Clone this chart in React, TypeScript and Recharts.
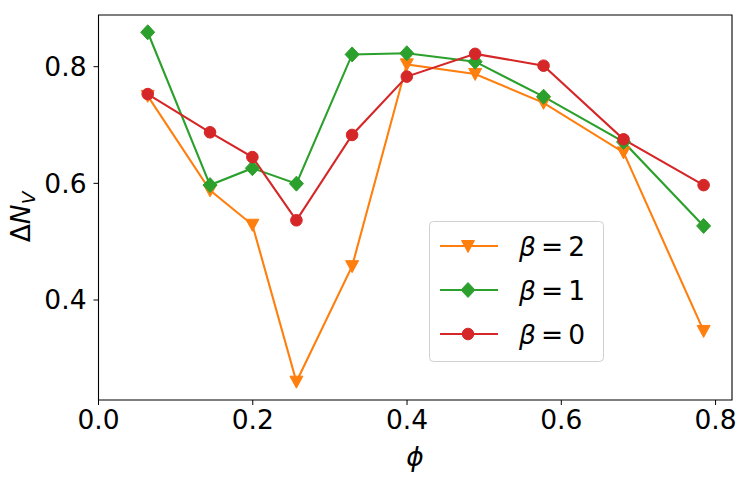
import React from 'react';
import { LineChart, Line, XAxis, YAxis, ReferenceArea } from 'recharts';

// phi values (x)
const phi = [0.0638, 0.1446, 0.1995, 0.2566, 0.3288, 0.3997, 0.4883, 0.577, 0.6807, 0.7845];

// Delta N_V for each beta
const beta2 = [0.750, 0.588, 0.529, 0.260, 0.458, 0.804, 0.7875, 0.738, 0.653, 0.347];
const beta1 = [0.859, 0.597, 0.626, 0.5995, 0.821, 0.823, 0.8086, 0.7486, 0.671, 0.527];
const beta0 = [0.753, 0.6875, 0.645, 0.5367, 0.683, 0.783, 0.822, 0.8017, 0.6755, 0.597];

const xTicks = [0, 0.2, 0.4, 0.6, 0.8];
const yTicks = [0.4, 0.6, 0.8];

const data = phi.map((p, i) => ({ phi: p, b2: beta2[i], b1: beta1[i], b0: beta0[i] }));

const ORANGE = '#ff7f0e';
const GREEN = '#2ca02c';
const RED = '#d62728';
const FONT = 'DejaVu Sans';
const FS = 26.5;

const TriDown = (cx: number, cy: number, color: string, key?: any) => (
  <path key={key} d={`M${cx - 6.5},${cy - 5.5} L${cx + 6.5},${cy - 5.5} L${cx},${cy + 6.5} Z`} fill={color} stroke={color} />
);
const Diamond = (cx: number, cy: number, color: string, key?: any) => (
  <path key={key} d={`M${cx},${cy - 7.5} L${cx + 7},${cy} L${cx},${cy + 7.5} L${cx - 7},${cy} Z`} fill={color} stroke={color} />
);
const Circle = (cx: number, cy: number, color: string, key?: any) => (
  <circle key={key} cx={cx} cy={cy} r={5.8} fill={color} stroke={color} />
);

const series = [
  { key: 'b2', label: '2', color: ORANGE, marker: TriDown },
  { key: 'b1', label: '1', color: GREEN, marker: Diamond },
  { key: 'b0', label: '0', color: RED, marker: Circle },
];

// axis labels + legend, drawn over the chart
const Overlay = () => (
  <svg width={748} height={484} style={{ position: 'absolute', left: 0, top: 0, pointerEvents: 'none' }}>
    <text x={415} y={466} textAnchor="middle" fontFamily={FONT} fontSize={FS} fontStyle="italic" fill="#000">
      ϕ
    </text>
    <text transform="translate(30,217) rotate(-90)" textAnchor="middle" fontFamily={FONT} fontSize={FS} fill="#000">
      Δ<tspan fontStyle="italic">N</tspan>
      <tspan fontStyle="italic" fontSize={18.5} dy={5}>V</tspan>
    </text>
    <g transform="translate(429,221)">
      <rect x={0.5} y={0.5} width={174} height={140} rx={4} fill="#fff" fillOpacity={0.8} stroke="#d0d0d0" />
      {series.map((s, i) => {
        const y = 25 + i * 44;
        return (
          <g key={s.key}>
            <line x1={11} x2={69} y1={y} y2={y} stroke={s.color} strokeWidth={2.1} />
            {s.marker(39, y, s.color)}
            <text x={90} y={y + 9.5} fontFamily={FONT} fontSize={FS} fill="#000">
              <tspan fontStyle="italic">β</tspan>
              <tspan dx={5}>=</tspan>
              <tspan dx={5}>{s.label}</tspan>
            </text>
          </g>
        );
      })}
    </g>
  </svg>
);

const App = () => {
  return (
    <div style={{ position: 'absolute', left: 0, top: 0, width: 748, height: 484, background: '#fff' }}>
      <LineChart width={748} height={484} data={data} margin={{ top: 15, right: 16, left: 0, bottom: 0 }}>
        <XAxis
          dataKey="phi"
          type="number"
          domain={[0, 0.8213]}
          ticks={xTicks}
          tickFormatter={(v: number) => v.toFixed(1)}
          height={84}
          tickSize={5}
          tickMargin={5}
          axisLine={false}
          tickLine={{ stroke: '#000' }}
          tick={{ fill: '#000', fontSize: FS, fontFamily: FONT }}
          allowDataOverflow
        />
        <YAxis
          type="number"
          domain={[0.2286, 0.8886]}
          ticks={yTicks}
          tickFormatter={(v: number) => v.toFixed(1)}
          width={98.5}
          tickSize={5}
          tickMargin={7}
          axisLine={false}
          tickLine={{ stroke: '#000' }}
          tick={{ fill: '#000', fontSize: FS, fontFamily: FONT }}
          allowDataOverflow
        />
        <ReferenceArea x1={0} x2={0.8213} y1={0.2286} y2={0.8886} fill="none" stroke="#000" strokeWidth={1.1} ifOverflow="visible" />
        {series.map((s) => (
          <Line
            key={s.key}
            dataKey={s.key}
            stroke={s.color}
            strokeWidth={2.1}
            isAnimationActive={false}
            dot={(p: any) => s.marker(p.cx, p.cy, s.color, `${s.key}-${p.index}`)}
            activeDot={false}
          />
        ))}
      </LineChart>
      <Overlay />
    </div>
  );
};

export default App;
